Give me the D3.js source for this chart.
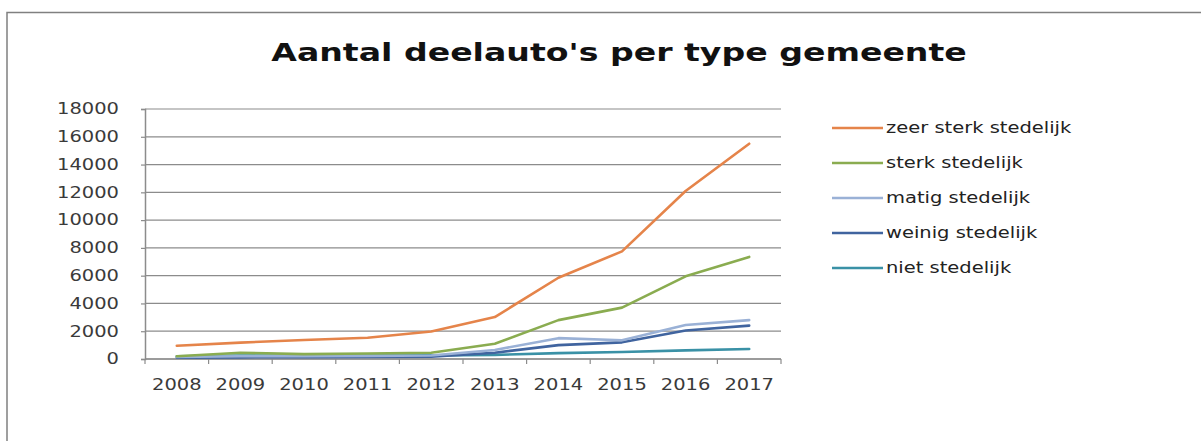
<!DOCTYPE html>
<html>
<head>
<meta charset="utf-8">
<script src="https://cdn.jsdelivr.net/npm/d3@7"></script>
<style>
    body { margin: 0; background: #fff; }
    svg { display: block; }
</style>
</head>
<body>
<div id="chart"></div>
<script>
// Data
var years = ["2008", "2009", "2010", "2011", "2012", "2013", "2014", "2015", "2016", "2017"];
var seriesNames = ["zeer sterk stedelijk", "sterk stedelijk", "matig stedelijk", "weinig stedelijk", "niet stedelijk"];
var zeerSterk = [950, 1180, 1370, 1530, 1980, 3020, 5850, 7750, 12100, 15500];
var sterk = [200, 450, 350, 400, 450, 1100, 2800, 3700, 5950, 7350];
var matig = [150, 200, 200, 220, 250, 650, 1500, 1350, 2450, 2800];
var weinig = [100, 120, 130, 150, 170, 450, 1000, 1200, 2050, 2400];
var niet = [200, 250, 230, 250, 260, 300, 420, 500, 620, 720];
var yTicks = [0, 2000, 4000, 6000, 8000, 10000, 12000, 14000, 16000, 18000];
var colors = ["#e5844a", "#8aac50", "#9ab1d6", "#40649f", "#3a91a6"];

var series = [zeerSterk, sterk, matig, weinig, niet].map((values, i) => ({
    name: seriesNames[i],
    color: colors[i],
    values: values
}));

const width = 1201, height = 441;
const plot = { left: 145, right: 781, top: 109, bottom: 359 };
const sx = 1.3;  // the reference image is stretched horizontally
const font = "'DejaVu Sans', Verdana, sans-serif";

var svg = d3.select("#chart")
    .append("svg")
    .attr("width", width)
    .attr("height", height);

// Outer frame (only top and left edges are visible)
svg.append("path")
    .attr("d", `M7,${height} V12.5 H${width}`)
    .attr("fill", "none")
    .attr("stroke", "#808080")
    .attr("stroke-width", 1.5);

// Title
svg.append("text")
    .attr("transform", `translate(619,61) scale(${sx},1)`)
    .attr("text-anchor", "middle")
    .style("font-family", font)
    .style("font-weight", "bold")
    .style("font-size", "25.5px")
    .style("fill", "#111")
    .text("Aantal deelauto's per type gemeente");

var x = d3.scaleBand()
    .domain(years)
    .range([plot.left, plot.right]);

var y = d3.scaleLinear()
    .domain([0, 18000])
    .range([plot.bottom, plot.top]);

// Horizontal gridlines
svg.append("g")
    .selectAll("line")
    .data(yTicks)
    .join("line")
    .attr("x1", plot.left)
    .attr("x2", plot.right)
    .attr("y1", d => y(d))
    .attr("y2", d => y(d))
    .attr("stroke", "#8c8c8c")
    .attr("stroke-width", 1.2);

// Y axis
svg.append("g")
    .attr("transform", `translate(${plot.left},0)`)
    .call(d3.axisLeft(y).tickValues(yTicks).tickSize(4).tickFormat(d3.format("d")))
    .call(g => g.select(".domain").attr("stroke", "#8c8c8c").attr("stroke-width", 1.5))
    .call(g => g.selectAll(".tick line").attr("stroke", "#8c8c8c").attr("stroke-width", 1.2))
    .call(g => g.selectAll(".tick text")
        .attr("x", -26 / sx)
        .attr("transform", `scale(${sx},1)`)
        .style("font-family", font)
        .style("font-size", "15px")
        .style("fill", "#3a3a3a"));

// X axis: line, ticks between categories, centred labels
svg.append("line")
    .attr("x1", plot.left)
    .attr("x2", plot.right)
    .attr("y1", y(0))
    .attr("y2", y(0))
    .attr("stroke", "#8c8c8c")
    .attr("stroke-width", 1.5);

svg.append("g")
    .selectAll("line")
    .data(years.map(d => x(d)).concat([plot.right]))
    .join("line")
    .attr("x1", d => d)
    .attr("x2", d => d)
    .attr("y1", y(0))
    .attr("y2", y(0) + 5)
    .attr("stroke", "#8c8c8c")
    .attr("stroke-width", 1.2);

svg.append("g")
    .selectAll("text")
    .data(years)
    .join("text")
    .attr("transform", d => `translate(${x(d) + x.bandwidth() / 2},${y(0) + 31}) scale(${sx},1)`)
    .attr("text-anchor", "middle")
    .style("font-family", font)
    .style("font-size", "15px")
    .style("fill", "#3a3a3a")
    .text(d => d);

// Series lines, drawn back to front so the orange is on top
var line = d3.line()
    .x((d, i) => x(years[i]) + x.bandwidth() / 2)
    .y(d => y(d));

svg.append("g")
    .selectAll("path")
    .data(series.slice().reverse())
    .join("path")
    .attr("d", d => line(d.values))
    .attr("fill", "none")
    .attr("stroke", d => d.color)
    .attr("stroke-width", 2.6)
    .attr("stroke-linejoin", "round")
    .attr("stroke-linecap", "round");

// Legend
var legend = svg.append("g")
    .selectAll("g")
    .data(series)
    .join("g")
    .attr("transform", (d, i) => `translate(832,${128 + i * 35})`);

legend.append("line")
    .attr("x1", 0)
    .attr("x2", 51)
    .attr("stroke", d => d.color)
    .attr("stroke-width", 2.6);

legend.append("text")
    .attr("transform", `translate(54,0) scale(${sx},1)`)
    .attr("dy", "0.35em")
    .style("font-family", font)
    .style("font-size", "15px")
    .style("fill", "#222")
    .text(d => d.name);
</script>
</body>
</html>
